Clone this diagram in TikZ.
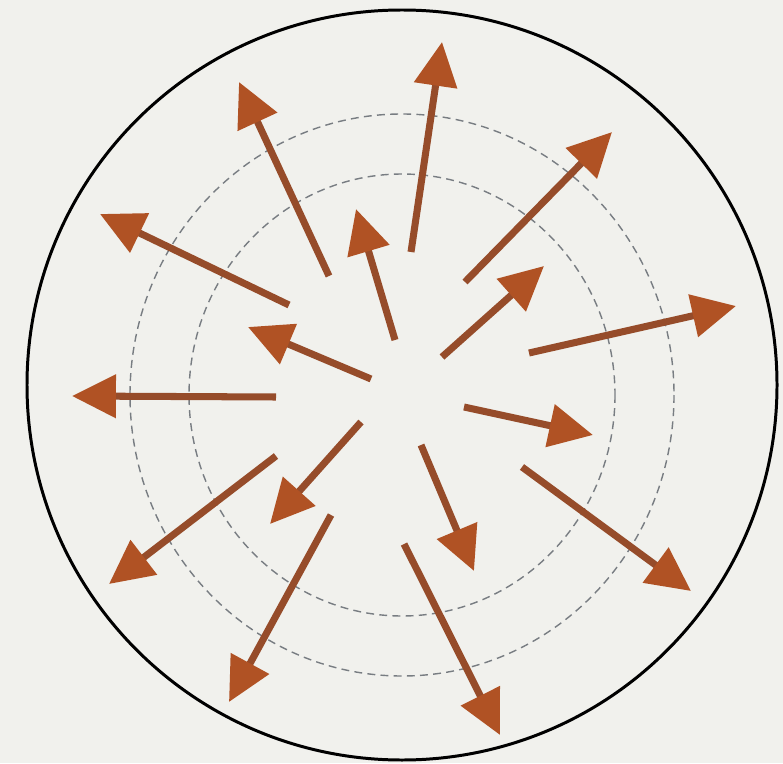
\documentclass[tikz,border=0pt]{standalone}
\usepackage{tikz}
\usetikzlibrary{arrows.meta}

\definecolor{paper}{RGB}{241,241,237}
\definecolor{rust}{RGB}{150,76,42}
\definecolor{rusthead}{RGB}{176,82,36}
\definecolor{dashgray}{RGB}{120,125,130}

\begin{document}
\begin{tikzpicture}[x=0.02cm, y=-0.02cm,
    ray/.style={draw=rust, line width=4pt,
      -{Triangle[length=25pt, width=24pt, color=rusthead]}},
    ring/.style={draw=dashgray, line width=0.8pt, dash pattern=on 4.5pt off 3pt}]
        % background and frame
        \fill[paper] (0,0) rectangle (783,763);
        \useasboundingbox (0,0) rectangle (783,763);

        \coordinate (c) at (402,385);
        \coordinate (m) at (402,395);
        \draw[black, line width=1.7pt] (c) circle [radius=375];

        % the two dashed rings
        \draw[ring] (m) ellipse [x radius=272, y radius=281];
        \draw[ring] (m) ellipse [x radius=213, y radius=221];

        % outer arrows
        \foreach \i/\ax/\ay/\bx/\by in {1/411/252/442/42, 2/329/276/239/82,
            3/289/305/100/214, 4/276/397/72/396, 5/276/456/109/584,
            6/331/515/229/702, 7/404/544/500/735, 8/522/467/691/591,
            9/529/353/736/306, 10/465/282/612/132} {
          \coordinate (o\i) at (\ax,\ay);
          \coordinate (O\i) at (\bx,\by);
          \draw[ray] (o\i) -- (O\i);
        }

        % inner arrows
        \foreach \i/\ax/\ay/\bx/\by in {1/395/340/356/209, 2/371/379/248/327,
            3/442/357/544/266, 4/464/407/593/435, 5/421/445/474/571,
            6/361/422/270/524} {
          \coordinate (n\i) at (\ax,\ay);
          \coordinate (N\i) at (\bx,\by);
          \draw[ray] (n\i) -- (N\i);
        }
      \end{tikzpicture}
\end{document}
